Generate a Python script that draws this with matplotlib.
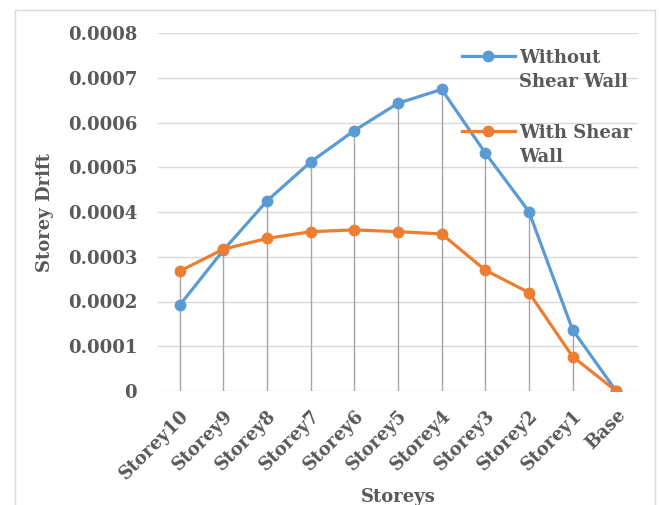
"""Storey drift with and without shear wall, per storey."""
import matplotlib

matplotlib.use("Agg")
import matplotlib.pyplot as plt  # noqa: E402
from matplotlib.legend_handler import HandlerLine2D  # noqa: E402
from matplotlib.patches import Rectangle  # noqa: E402
from matplotlib.ticker import FuncFormatter, MultipleLocator  # noqa: E402

storeys = ["Storey10", "Storey9", "Storey8", "Storey7", "Storey6", "Storey5",
           "Storey4", "Storey3", "Storey2", "Storey1", "Base"]
without_wall = [0.000192, 0.000315, 0.000425, 0.000512, 0.000582, 0.000643,
                0.000674, 0.000532, 0.000401, 0.000137, 0.0]
with_wall = [0.000268, 0.000317, 0.000341, 0.000356, 0.000360, 0.000356,
             0.000351, 0.000270, 0.000220, 0.000077, 0.0]

BLUE = "#5b9bd5"
ORANGE = "#ed7d31"
TEXT = "#595959"
FS = 13

plt.rcParams["font.family"] = ["DejaVu Serif"]
plt.rcParams["font.weight"] = "bold"


class FirstLineHandler(HandlerLine2D):
    """Put the legend marker level with the first line of a two-line label."""

    def create_artists(self, legend, orig_handle, xdescent, ydescent,
                       width, height, fontsize, trans):
        return super().create_artists(legend, orig_handle, xdescent,
                                      ydescent - 2 * 0.8 * fontsize,
                                      width, height, fontsize, trans)


fig = plt.figure(figsize=(6.59, 5.05), dpi=100)
fig.patches.append(Rectangle((15 / 659, -0.05), 640 / 659, 1.05 - 10 / 505,
                             transform=fig.transFigure, fill=False,
                             edgecolor="#d9d9d9", lw=1))
ax = fig.add_axes([158 / 659, 1 - 391 / 505, 480 / 659, 358 / 505])

x = list(range(len(storeys)))
# drop lines from the higher of the two points
tops = [max(a, b) for a, b in zip(without_wall, with_wall)]
ax.vlines(x, 0, tops, color="#a6a6a6", lw=1, zorder=1)

ax.plot(x, without_wall, color=BLUE, lw=2.3, marker="o", ms=7.5,
        label="Without\nShear Wall", zorder=3)
ax.plot(x, with_wall, color=ORANGE, lw=2.3, marker="o", ms=7.5,
        label="With Shear\nWall", zorder=3)

ax.set_xlim(-0.5, len(storeys) - 0.5)
ax.set_ylim(0, 0.0008)
ax.yaxis.set_major_locator(MultipleLocator(0.0001))
ax.yaxis.set_major_formatter(
    FuncFormatter(lambda v, _: "0" if abs(v) < 1e-12 else f"{v:.4f}"))
ax.grid(axis="y", color="#d9d9d9", lw=1, zorder=0)
ax.set_axisbelow(True)
for s in ax.spines.values():
    s.set_visible(False)

ax.set_xticks(x)
ax.set_xticklabels(storeys, rotation=45, ha="right", rotation_mode="anchor")
ax.tick_params(axis="both", length=0, colors=TEXT, labelsize=FS)
ax.tick_params(axis="y", pad=15)
ax.tick_params(axis="x", pad=11)

ax.set_ylabel("Storey Drift", color=TEXT, fontsize=FS, fontweight="bold",
              labelpad=10)
ax.set_xlabel("Storeys", color=TEXT, fontsize=FS, fontweight="bold",
              labelpad=4)

leg = ax.legend(loc="upper left", bbox_to_anchor=(0.6, 1.0), frameon=False,
                fontsize=FS, labelcolor=TEXT, handlelength=2.9,
                handletextpad=0.25, labelspacing=1.85,
                handler_map={plt.Line2D: FirstLineHandler()})
for t in leg.get_texts():
    t.set_linespacing(1.4)

fig.savefig("out.png", dpi=100)
plt.close(fig)
